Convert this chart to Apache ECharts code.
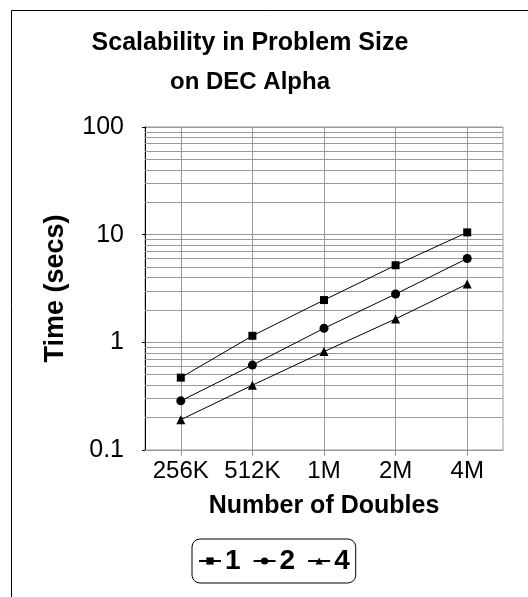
<!DOCTYPE html>
<html>
<head>
<meta charset="utf-8">
<script src="https://cdn.jsdelivr.net/npm/echarts@6/dist/echarts.min.js"></script>
<style>
html,body{margin:0;padding:0;background:#fff;}
#c{width:528px;height:597px;}
</style>
</head>
<body>
<div id="c"></div>
<script>
var categories = ['256K', '512K', '1M', '2M', '4M'];
var seriesNames = ['1', '2', '4'];
var p1 = [0.47, 1.15, 2.47, 5.2, 10.5];
var p2 = [0.286, 0.615, 1.35, 2.81, 6.0];
var p4 = [0.191, 0.40, 0.82, 1.65, 3.48];
var yTicks = [0.1, 1, 10, 100];
var minorGrid = [0.2,0.3,0.4,0.5,0.6,0.7,0.8,0.9,2,3,4,5,6,7,8,9,20,30,40,50,60,70,80,90];

var FONT = "'Liberation Sans', Arial, sans-serif";
var GRAY = '#999999';
var chart = echarts.init(document.getElementById('c'), null, {renderer: 'canvas'});

function mkSeries(name, data, symbol, size, withGrid) {
  var s = {
    name: name, type: 'line', data: data,
    symbol: symbol, symbolSize: size,
    itemStyle: {color: '#000'},
    lineStyle: {color: '#000', width: 1},
    animation: false, z: 5
  };
  if (withGrid) {
    s.markLine = {
      silent: true, symbol: ['none', 'none'], animation: false,
      label: {show: false},
      lineStyle: {color: GRAY, width: 1, type: 'solid'},
      emphasis: {disabled: true},
      data: minorGrid.map(function (v) { return {yAxis: v}; }),
      z: 1
    };
  }
  return s;
}

chart.setOption({
  animation: false,
  backgroundColor: '#fff',
  textStyle: {fontFamily: FONT, color: '#000'},
  title: [
    {text: 'Scalability in Problem Size', left: 245, top: 26, textAlign: 'center',
     textStyle: {fontFamily: FONT, fontSize: 25, fontWeight: 'bold', color: '#000'}},
    {text: 'on DEC Alpha', left: 245, top: 65, textAlign: 'center',
     textStyle: {fontFamily: FONT, fontSize: 24, fontWeight: 'bold', color: '#000'}}
  ],
  graphic: [
    {type: 'rect', shape: {x: 11.5, y: 10.5, width: 700, height: 700},
     style: {fill: 'none', stroke: '#000', lineWidth: 1}, silent: true, z: -10}
  ],
  legend: {
    data: seriesNames,
    left: 192, top: 539,
    orient: 'horizontal',
    itemWidth: 22, itemHeight: 9, itemGap: 12,
    padding: [8, 6],
    borderColor: '#000', borderWidth: 1, borderRadius: 8,
    textStyle: {fontFamily: FONT, fontSize: 28, fontWeight: 'bold', color: '#000', padding: [0, 0, 0, -1]},
    selectedMode: false
  },
  grid: {left: 145, right: 25, top: 127, bottom: 147, show: true, borderColor: GRAY, borderWidth: 1, backgroundColor: 'transparent'},
  xAxis: {
    type: 'category', data: categories, boundaryGap: true,
    name: 'Number of Doubles', nameLocation: 'middle', nameGap: 44,
    nameTextStyle: {fontFamily: FONT, fontSize: 25, fontWeight: 'bold', color: '#000'},
    axisLine: {show: true, lineStyle: {color: GRAY, width: 1}},
    axisTick: {show: true, alignWithLabel: true, length: 6, lineStyle: {color: GRAY}},
    axisLabel: {fontFamily: FONT, fontSize: 24, color: '#000', margin: 9, interval: 0},
    splitLine: {show: true, alignWithLabel: true, lineStyle: {color: GRAY, width: 1}}
  },
  yAxis: {
    type: 'log', logBase: 10, min: 0.1, max: 100,
    name: 'Time (secs)', nameLocation: 'middle', nameGap: 76,
    nameTextStyle: {fontFamily: FONT, fontSize: 27, fontWeight: 'bold', color: '#000'},
    axisLine: {show: true, lineStyle: {color: '#000', width: 1}},
    axisTick: {show: true, length: 3, lineStyle: {color: '#000'}},
    axisLabel: {fontFamily: FONT, fontSize: 25, color: '#000', margin: 21,
      formatter: function (v) { return String(v); }},
    splitLine: {show: true, lineStyle: {color: GRAY, width: 1}}
  },
  series: [
    mkSeries(seriesNames[0], p1, 'rect', 8, true),
    mkSeries(seriesNames[1], p2, 'circle', 9, false),
    mkSeries(seriesNames[2], p4, 'triangle', 9, false)
  ]
});
</script>
</body>
</html>
